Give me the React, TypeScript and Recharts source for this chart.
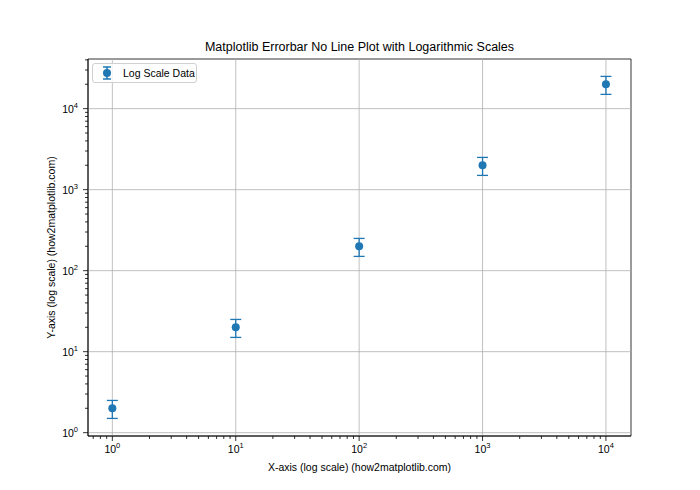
import { ErrorBar, Legend, ReferenceArea, ReferenceLine, Scatter, ScatterChart, XAxis, YAxis } from 'recharts'

const X_VALUES = [1, 10, 100, 1000, 10000]
const Y_VALUES = [2, 20, 200, 2000, 20000]
const Y_ERRORS = [0.5, 5, 50, 500, 5000]
const MAJOR_TICKS = [1, 10, 100, 1000, 10000]
const MINOR_STEPS = [2, 3, 4, 5, 6, 7, 8, 9]
const DECADES = [0.1, 1, 10, 100, 1000, 10000]
const X_DOMAIN: [number, number] = [0.635, 15960]
const Y_DOMAIN: [number, number] = [0.91, 41000]

const TITLE = 'Matplotlib Errorbar No Line Plot with Logarithmic Scales'
const X_LABEL = 'X-axis (log scale) (how2matplotlib.com)'
const Y_LABEL = 'Y-axis (log scale) (how2matplotlib.com)'
const SERIES_NAME = 'Log Scale Data'
const BLUE = '#1f77b4'

const data = X_VALUES.map((x, i) => ({ x, y: Y_VALUES[i], err: Y_ERRORS[i] }))

const minorIn = ([lo, hi]: [number, number]) =>
  DECADES.flatMap((d) => MINOR_STEPS.map((m) => +(d * m).toPrecision(6))).filter((v) => v >= lo && v <= hi)

const xTicks = [...MAJOR_TICKS, ...minorIn(X_DOMAIN)]
const yTicks = [...MAJOR_TICKS, ...minorIn(Y_DOMAIN)]

const Pow = ({ value }: { value: number }) => (
  <>
    10<tspan dy={-5} fontSize={7.5}>{Math.round(Math.log10(value))}</tspan>
  </>
)

const XTick = ({ x, y, payload }: any) => {
  const major = MAJOR_TICKS.includes(payload.value)
  return (
    <g>
      <line x1={x} x2={x} y1={y} y2={y + (major ? 5 : 3)} stroke="#000" strokeWidth={0.8} />
      {major && (
        <text x={x} y={y + 17} textAnchor="middle" fontSize={10.5} fill="#000">
          <Pow value={payload.value} />
        </text>
      )}
    </g>
  )
}

const YTick = ({ x, y, payload }: any) => {
  const major = MAJOR_TICKS.includes(payload.value)
  return (
    <g>
      <line x1={x} x2={x - (major ? 5 : 3)} y1={y} y2={y} stroke="#000" strokeWidth={0.8} />
      {major && (
        <text x={x - 10} y={y + 4} textAnchor="end" fontSize={10.5} fill="#000">
          <Pow value={payload.value} />
        </text>
      )}
    </g>
  )
}

const LegendBox = () => (
  <div
    style={{
      display: 'flex',
      alignItems: 'center',
      width: 103,
      height: 18,
      border: '1px solid #d0d0d0',
      borderRadius: 3,
      background: 'rgba(255,255,255,0.8)',
      fontSize: 10.5,
      color: '#000',
    }}
  >
    <svg width={28} height={18}>
      <line x1={14} x2={14} y1={3} y2={15} stroke={BLUE} strokeWidth={1.5} />
      <line x1={10} x2={18} y1={3} y2={3} stroke={BLUE} strokeWidth={1.5} />
      <line x1={10} x2={18} y1={15} y2={15} stroke={BLUE} strokeWidth={1.5} />
      <circle cx={14} cy={9} r={4} fill={BLUE} />
    </svg>
    <span style={{ marginLeft: 2 }}>{SERIES_NAME}</span>
  </div>
)

export default function App() {
  return (
    <div style={{ position: 'fixed', left: 0, top: 0, width: 700, height: 490, background: '#fff', fontFamily: '"Liberation Sans", Arial, sans-serif' }}>
      <ScatterChart width={700} height={490} margin={{ top: 59, right: 69, bottom: 0, left: 0 }}>
        <XAxis
          dataKey="x"
          type="number"
          scale="log"
          domain={X_DOMAIN}
          allowDataOverflow
          ticks={xTicks}
          interval={0}
          tick={<XTick />}
          tickLine={false}
          tickSize={0}
          tickMargin={0}
          height={54}
          axisLine={{ stroke: '#000', strokeWidth: 0.8 }}
          label={{ value: X_LABEL, position: 'insideBottom', offset: 19, fontSize: 10.5, fill: '#000' }}
        />
        <YAxis
          dataKey="y"
          type="number"
          scale="log"
          domain={Y_DOMAIN}
          allowDataOverflow
          ticks={yTicks}
          interval={0}
          tick={<YTick />}
          tickLine={false}
          tickSize={0}
          tickMargin={0}
          width={88}
          axisLine={{ stroke: '#000', strokeWidth: 0.8 }}
          label={{ value: Y_LABEL, angle: -90, position: 'insideLeft', offset: 51, fontSize: 10.5, fill: '#000', style: { textAnchor: 'middle' } }}
        />
        {MAJOR_TICKS.map((v) => (
          <ReferenceLine key={'gx' + v} x={v} stroke="#b0b0b0" strokeWidth={0.8} />
        ))}
        {MAJOR_TICKS.map((v) => (
          <ReferenceLine key={'gy' + v} y={v} stroke="#b0b0b0" strokeWidth={0.8} />
        ))}
        <ReferenceArea
          x1={X_DOMAIN[0]}
          x2={X_DOMAIN[1]}
          y1={Y_DOMAIN[0]}
          y2={Y_DOMAIN[1]}
          fill="none"
          fillOpacity={0}
          stroke="#000"
          strokeWidth={0.8}
          strokeOpacity={1}
          ifOverflow="visible"
          label={{ value: TITLE, position: 'top', offset: 8, fontSize: 12.5, fill: '#000' }}
        />
        <Legend
          layout="vertical"
          verticalAlign="middle"
          align="center"
          content={<LegendBox />}
          wrapperStyle={{ left: 92, top: 63, width: 'auto' }}
        />
        <Scatter
          name={SERIES_NAME}
          data={data}
          fill={BLUE}
          isAnimationActive={false}
          shape={(p: any) => <circle cx={p.cx} cy={p.cy} r={4} fill={BLUE} />}
        >
          <ErrorBar dataKey="err" direction="y" width={5.5} stroke={BLUE} strokeWidth={1.3} />
        </Scatter>
      </ScatterChart>
    </div>
  )
}
